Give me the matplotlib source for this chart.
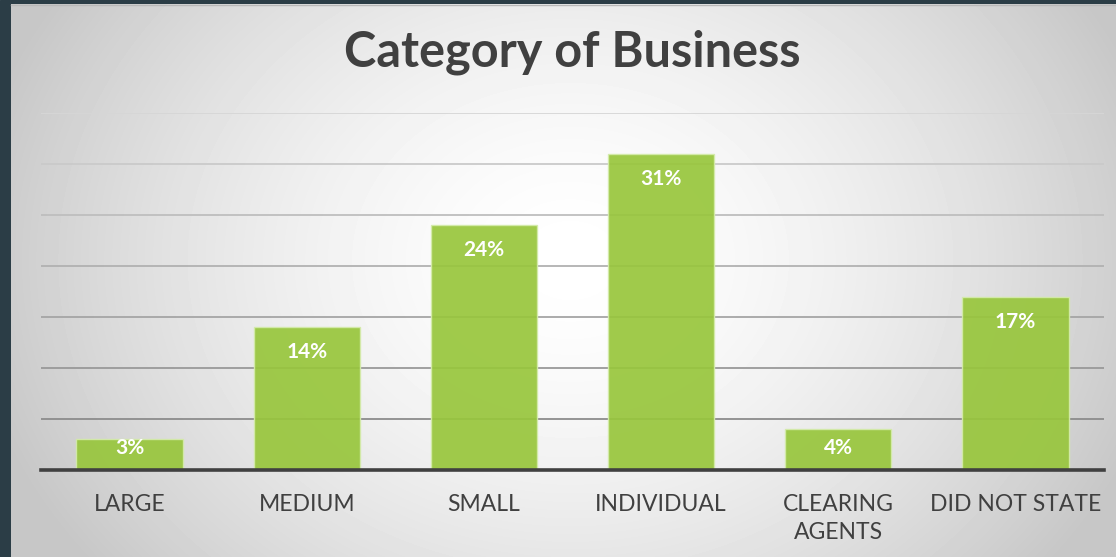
import matplotlib.pyplot as plt
import numpy as np

categories = ["LARGE", "MEDIUM", "SMALL", "INDIVIDUAL", "CLEARING\nAGENTS", "DID NOT STATE"]
shares = [3, 14, 24, 31, 4, 17]
value_labels = ["3%", "14%", "24%", "31%", "4%", "17%"]
grid_levels = [5, 10, 15, 20, 25, 30, 35]

plt.rcParams['font.family'] = ['Lato', 'DejaVu Sans']

W, H = 1116, 557
fig = plt.figure(figsize=(W / 100, H / 100), dpi=100)

# backdrop: dark frame plus a soft radial gradient panel
bg = fig.add_axes([0, 0, 1, 1], zorder=-10)
bg.add_patch(plt.Rectangle((0, 0), W, H, color="#2b3d46", zorder=0))
yy, xx = np.mgrid[0:H - 4, 0:W - 11]
d = np.sqrt(((xx + 11 - 570) / 640.0) ** 2 + ((yy + 4 - 260) / 520.0) ** 2)
shade = np.clip(1.0 - 0.24 * d ** 1.6, 0.78, 1.0)
bg.imshow(shade, cmap="gray", vmin=0, vmax=1, extent=(11, W, H, 4),
          interpolation="bilinear", aspect="auto", zorder=1)
bg.plot([11, W], [4.5, 4.5], color="#b8b8b8", lw=1, zorder=2)
bg.set_xlim(0, W)
bg.set_ylim(H, 0)
bg.axis("off")

ax = fig.add_axes([41 / W, 87 / H, 1063 / W, 357 / H])
ax.patch.set_alpha(0)
x = np.arange(len(categories))

for i, lvl in enumerate(grid_levels):
    g = 0.55 + 0.29 * i / (len(grid_levels) - 1)
    ax.axhline(lvl, color=(g, g, g), lw=1.3, zorder=1)

ax.bar(x, shares, width=0.6, color="#98c63c", alpha=0.92,
       edgecolor="#d4ebaa", linewidth=1, zorder=2)

for xi, v, lab in zip(x, shares, value_labels):
    ax.text(xi, max(v - 2.45, 2.2), lab, ha="center", va="center",
            color="white", fontsize=15, fontweight="bold", zorder=3)

# heavy baseline
ax.axhline(0, color="#404040", lw=2.6, zorder=4, clip_on=False)
ax.set_xlim(-0.5, len(categories) - 0.5)
ax.set_ylim(0, 35)
ax.set_yticks([])
ax.set_xticks(x)
ax.set_xticklabels(categories, fontsize=16.5, color="#404040", linespacing=1.45,
                   va="top")
ax.tick_params(axis="x", length=0, pad=17)
for s in ax.spines.values():
    s.set_visible(False)

fig.text(572 / W, 1 - 52 / H, "Category of Business", ha="center", va="center",
         fontsize=35, fontweight="bold", color="#404040")

fig.savefig("out.png", dpi=100)
